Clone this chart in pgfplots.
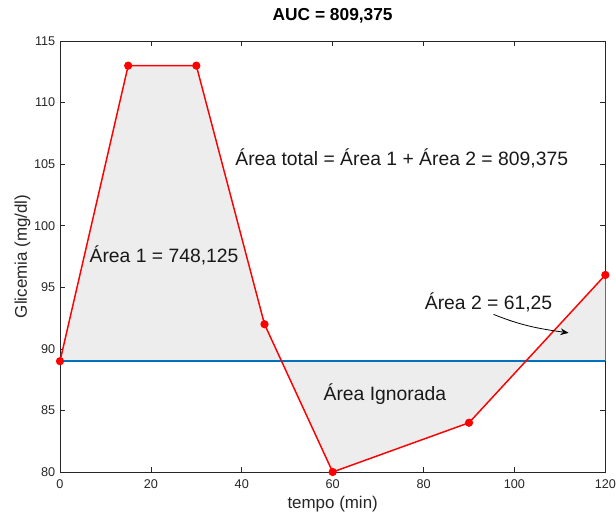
\documentclass[border=0pt]{standalone}
\usepackage{fontspec}
\setmainfont{Liberation Sans}
\usepackage{pgfplots}
\pgfplotsset{compat=1.18}
\usetikzlibrary{arrows.meta}
\definecolor{mblue}{rgb}{0,0.447,0.741}
\definecolor{axgray}{rgb}{0.15,0.15,0.15}
\definecolor{fillgray}{rgb}{0.929,0.929,0.929}
\begin{document}
\begin{tikzpicture}[x=1pt,y=1pt]
\begin{axis}[
  at={(0,0)}, anchor=south west,
  scale only axis,
  width=409pt, height=323.25pt,
  xmin=0, xmax=120, ymin=80, ymax=115,
  xtick={0,20,...,120}, ytick={80,85,...,115},
  tick align=inside, major tick length=4pt,
  axis line style={axgray, line width=0.5pt},
  every tick/.style={axgray, line width=0.5pt},
  tick label style={font=\fontsize{9.5}{11}\selectfont, text=axgray},
  /pgf/number format/assume math mode=true,
  xticklabel style={yshift=-2pt},
  title={\bfseries AUC = 809,375},
  title style={font=\fontsize{13}{15}\selectfont, at={(0.5,1)}, anchor=base, yshift=9pt, text=black},
  xlabel={tempo (min)},
  ylabel={Glicemia (mg/dl)},
  label style={font=\fontsize{12.7}{14}\selectfont, text=axgray},
  xlabel style={yshift=1pt},
  ylabel style={yshift=-4pt},
  clip=false,
]
\addplot[draw=none, fill=fillgray] coordinates {(0,89) (15,113) (30,113) (45,92) (60,80) (90,84) (120,96) (120,89)} -- cycle;
\addplot[mblue, line width=1.7pt] coordinates {(0,89) (120,89)};
\addplot[red, line width=1.1pt, mark=*, mark size=2.5pt, mark options={fill=red, draw=red}] coordinates {(0,89) (15,113) (30,113) (45,92) (60,80) (90,84) (120,96)};
\node[font=\fontsize{14.5}{16}\selectfont, text=black!90] at (axis cs:75.2,105.5) {Área total = Área 1 + Área 2 = 809,375};
\node[font=\fontsize{14.5}{16}\selectfont, text=black!90] at (axis cs:22.9,97.6) {Área 1 = 748,125};
\node[font=\fontsize{14.5}{16}\selectfont, text=black!90] at (axis cs:94.3,93.8) {Área 2 = 61,25};
\node[font=\fontsize{14.5}{16}\selectfont, text=black!90] at (axis cs:71.5,86.3) {Área Ignorada};
\draw[-{Stealth[length=6pt,width=5pt]}, line width=0.6pt] (axis cs:95.4,92.8) to[out=-22, in=172] (axis cs:111.9,91.3);
\end{axis}
\pgfresetboundingbox
\path (-45pt,-29.25pt) rectangle (417pt,354pt);
\end{tikzpicture}
\end{document}
